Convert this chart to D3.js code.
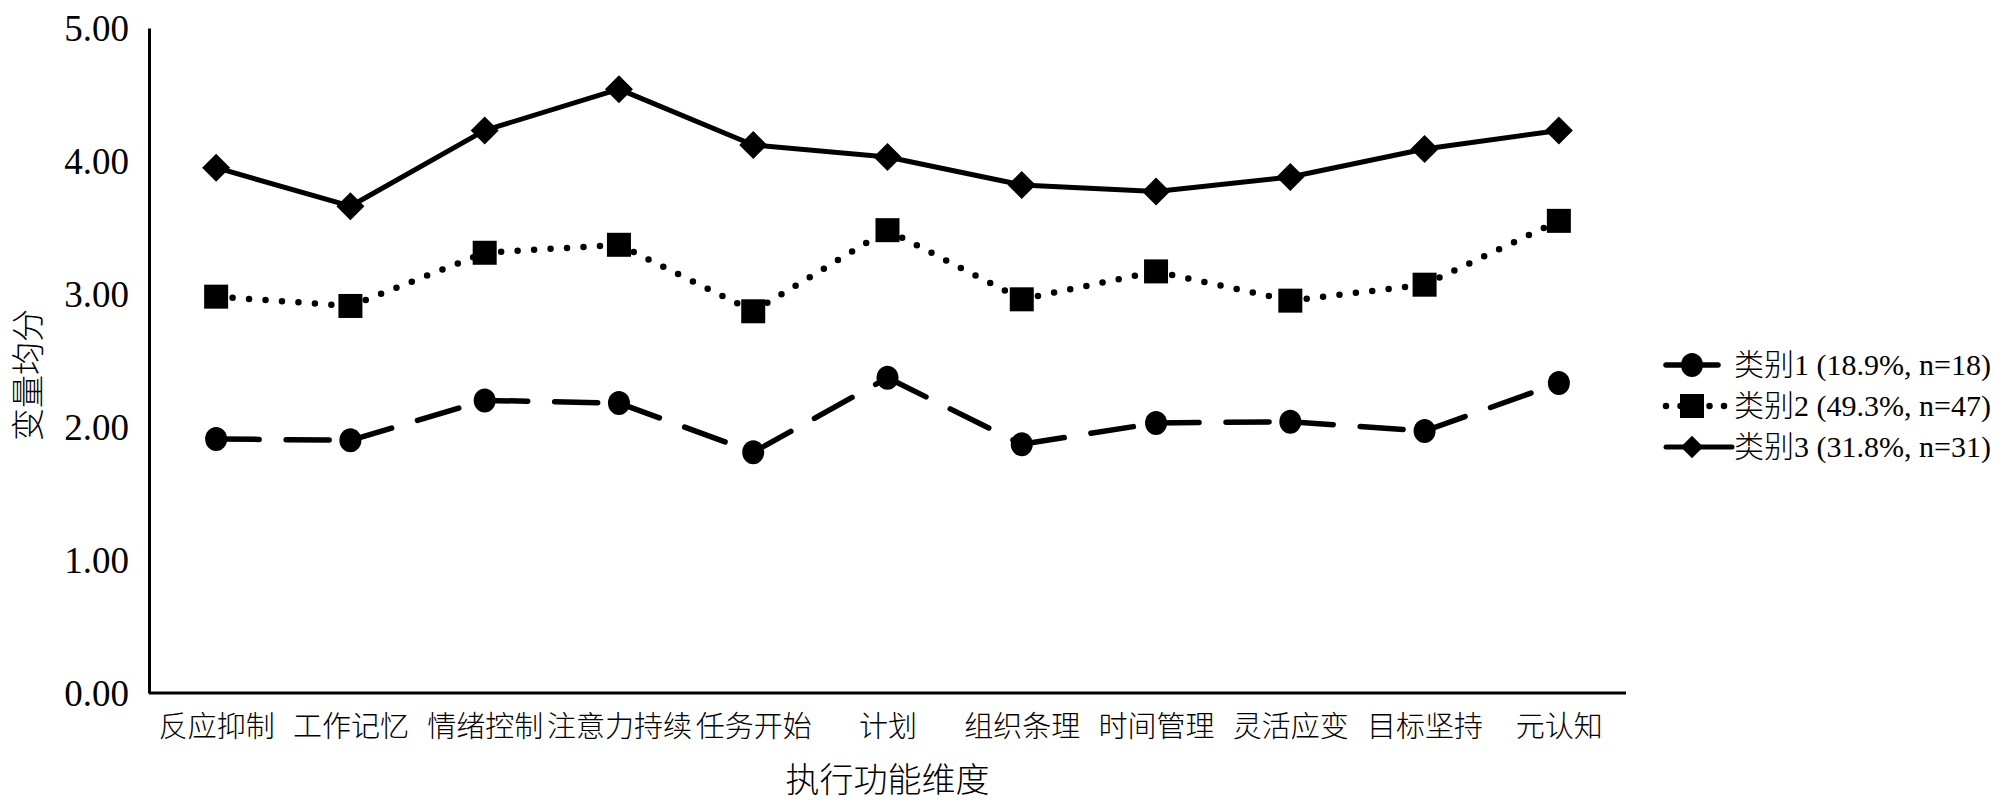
<!DOCTYPE html>
<html>
<head>
<meta charset="utf-8">
<script src="https://cdn.jsdelivr.net/npm/d3@7"></script>
<style>
  html, body { margin: 0; padding: 0; background: #fff; }
  svg { display: block; }
</style>
</head>
<body>
<svg id="chart" width="1999" height="812"></svg>
<script>
// ---- data ----
const categories = ["反应抑制", "工作记忆", "情绪控制", "注意力持续", "任务开始", "计划", "组织条理", "时间管理", "灵活应变", "目标坚持", "元认知"];
const class1 = [1.91, 1.90, 2.20, 2.18, 1.81, 2.37, 1.87, 2.03, 2.04, 1.97, 2.33];
const class2 = [2.98, 2.91, 3.31, 3.37, 2.87, 3.48, 2.96, 3.17, 2.95, 3.07, 3.55];
const class3 = [3.95, 3.66, 4.23, 4.54, 4.12, 4.03, 3.82, 3.77, 3.88, 4.09, 4.23];
const yTicks = [0, 1, 2, 3, 4, 5];
const seriesNames = ["类别1 (18.9%, n=18)", "类别2 (49.3%, n=47)", "类别3 (31.8%, n=31)"];
const yTitle = "变量均分";
const xTitle = "执行功能维度";

(function () {
// ---- layout ----
const svg = d3.select("#chart");
const plotLeft = 149, plotRight = 1626, plotTop = 28, plotBottom = 693;
const x = d3.scalePoint().domain(categories).range([plotLeft, plotRight]).padding(0.5);
const y = d3.scaleLinear().domain([0, 5]).range([plotBottom, plotTop]);

const serif = "'Liberation Serif', 'Times New Roman', 'Noto Sans CJK SC', serif";
const cjk = "'Noto Sans CJK SC', sans-serif";
const cjkWeight = 300;

// y axis
const gy = svg.append("g").attr("transform", `translate(${plotLeft},0)`)
  .call(d3.axisLeft(y).tickValues(yTicks).tickFormat(d3.format(".2f")).tickSize(0).tickSizeOuter(0).tickPadding(20));
gy.select(".domain").attr("stroke", "#000").attr("stroke-width", 3);
gy.selectAll("text").attr("font-family", serif).attr("font-size", 37).attr("fill", "#000").attr("dy", "0.33em");

// x axis
const gx = svg.append("g").attr("transform", `translate(0,${plotBottom})`)
  .call(d3.axisBottom(x).tickSize(0).tickSizeOuter(0).tickPadding(0));
gx.select(".domain").attr("stroke", "#000").attr("stroke-width", 3)
  .attr("d", `M${plotLeft},0H${plotRight}`);
gx.selectAll("text").attr("font-family", cjk).attr("font-weight", cjkWeight).attr("font-size", 29).attr("fill", "#000")
  .attr("y", 44).attr("dy", 0);

// axis titles
svg.append("text").attr("transform", `translate(28,375) rotate(-90)`)
  .attr("text-anchor", "middle").attr("dy", "0.36em")
  .attr("font-family", cjk).attr("font-weight", cjkWeight).attr("font-size", 33).attr("fill", "#000").text(yTitle);
svg.append("text").attr("x", (plotLeft + plotRight) / 2).attr("y", 792)
  .attr("text-anchor", "middle")
  .attr("font-family", cjk).attr("font-weight", cjkWeight).attr("font-size", 34).attr("fill", "#000").text(xTitle);

// ---- series ----
const styles = [
  { data: class1, width: 5.5, dash: "43 27", marker: "circle" },
  { data: class2, width: 6.5, dash: "0 16.5", marker: "square" },
  { data: class3, width: 5, dash: null, marker: "diamond" }
];

const lineGen = d3.line().x(d => x(d.c)).y(d => y(d.v));

function drawMarker(g, type, cx, cy, scale) {
  scale = scale || 1;
  if (type === "circle") {
    g.append("ellipse").attr("cx", cx).attr("cy", cy).attr("rx", 11 * scale).attr("ry", 12 * scale).attr("fill", "#000");
  } else if (type === "square") {
    const s = 24 * scale;
    g.append("rect").attr("x", cx - s / 2).attr("y", cy - s / 2).attr("width", s).attr("height", s).attr("fill", "#000");
  } else {
    const h = 14 * scale;
    g.append("path").attr("d", `M${cx},${cy - h}L${cx + h},${cy}L${cx},${cy + h}L${cx - h},${cy}Z`).attr("fill", "#000");
  }
}

styles.forEach(s => {
  const pts = categories.map((c, i) => ({ c, v: s.data[i] }));
  const g = svg.append("g");
  for (let i = 0; i < pts.length - 1; i++) {
    g.append("path").attr("d", lineGen([pts[i], pts[i + 1]]))
      .attr("fill", "none").attr("stroke", "#000").attr("stroke-width", s.width)
      .attr("stroke-linecap", "round")
      .attr("stroke-dasharray", s.dash);
  }
  pts.forEach(p => drawMarker(g, s.marker, x(p.c), y(p.v)));
});

// ---- legend ----
const legendY = [365, 406, 447];
const legendLineEnd = [1718, 1726, 1732];
styles.forEach((s, i) => {
  const g = svg.append("g");
  g.append("line").attr("x1", 1666).attr("x2", legendLineEnd[i]).attr("y1", legendY[i]).attr("y2", legendY[i])
    .attr("stroke", "#000").attr("stroke-width", s.width).attr("stroke-linecap", "round")
    .attr("stroke-dasharray", s.marker === "square" ? "0 14.5" : null);
  drawMarker(g, s.marker, 1692, legendY[i], s.marker === "diamond" ? 0.8 : 1);
  const t = g.append("text").attr("x", 1734).attr("y", legendY[i]).attr("dy", "0.34em")
    .attr("font-family", serif).attr("font-size", 30).attr("fill", "#000");
  const name = seriesNames[i];
  const m = name.match(/^([\u4e00-\u9fff]+)(.*)$/);
  if (m) {
    t.append("tspan").attr("font-family", cjk).attr("font-weight", cjkWeight).text(m[1]);
    t.append("tspan").text(m[2]);
  } else {
    t.text(name);
  }
});
})();
</script>
</body>
</html>
